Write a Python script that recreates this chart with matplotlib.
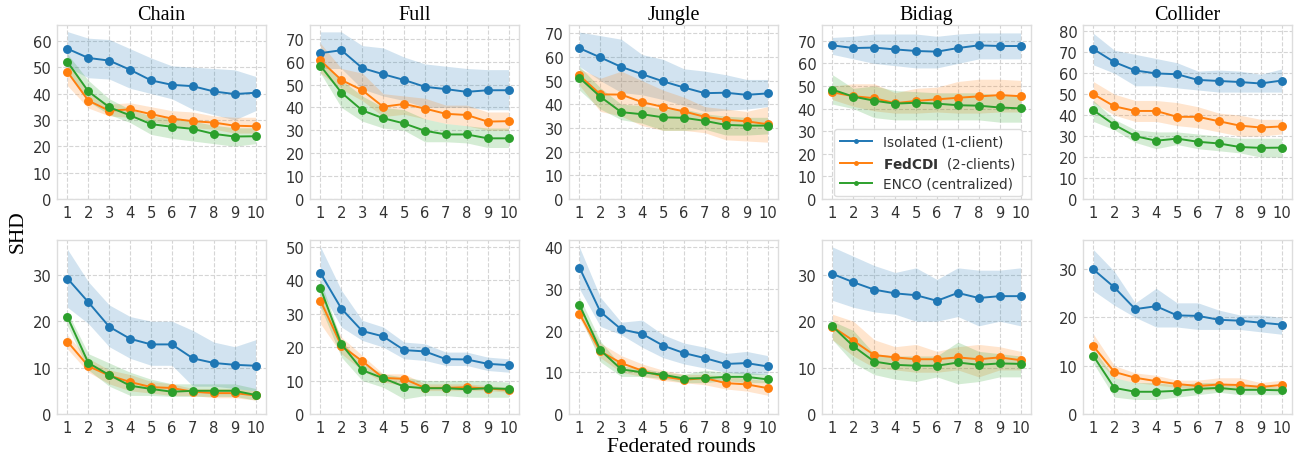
import matplotlib
matplotlib.use('Agg')
import matplotlib.pyplot as plt

# SHD per federated round, mean and band (lo/hi) for each method and graph type
rounds = [1, 2, 3, 4, 5, 6, 7, 8, 9, 10]
titles = ['Chain', 'Full', 'Jungle', 'Bidiag', 'Collider']
labels = ['Isolated (1-client)', r'$\bf{FedCDI}$  (2-clients)', 'ENCO (centralized)']

# --- top row ---
chain1_iso = [57, 53.5, 52.5, 49, 45, 43.3, 42.8, 40.8, 39.8, 40.3]
chain1_iso_hi = [63.5, 61, 60.5, 57, 53.5, 50.5, 50, 49.5, 49, 46.5]
chain1_iso_lo = [50, 46, 45.5, 42, 40, 38, 34, 32, 30, 33.5]
chain1_fed = [48.2, 37.3, 33.5, 34, 32.2, 30.5, 29.5, 29, 27.8, 27.6]
chain1_fed_hi = [52, 40, 36, 36.5, 35, 33.5, 33, 31.5, 31, 31]
chain1_fed_lo = [43, 34.5, 31.5, 31, 29.5, 28, 27, 26.5, 25, 25]
chain1_enc = [52, 40.8, 34.8, 31.7, 28.4, 27.4, 26.6, 24.7, 23.7, 23.8]
chain1_enc_hi = [55, 45, 38, 34, 31.5, 30.5, 29.5, 28, 27, 27]
chain1_enc_lo = [48, 37, 32, 29, 24.5, 23, 22, 21, 20, 21]

full1_iso = [63.7, 65, 57.2, 54.5, 52, 49, 48, 46.8, 47.5, 47.5]
full1_iso_hi = [73, 73, 67, 66, 62, 59, 58, 57, 56.5, 56.5]
full1_iso_lo = [57, 57, 48, 45, 43, 40, 40, 40, 39, 39]
full1_fed = [60.5, 52, 47.5, 40.3, 41.5, 39.5, 37.2, 36.7, 33.8, 34]
full1_fed_hi = [68, 57, 55, 46, 45, 44, 41, 41, 38, 38]
full1_fed_lo = [55, 48, 43, 36, 37, 35, 33, 32, 30, 30]
full1_enc = [58.2, 46.5, 38.7, 35.3, 33, 29.8, 28.2, 28.2, 26.5, 26.5]
full1_enc_hi = [61, 52, 45, 40, 39, 35, 33, 32, 31, 31]
full1_enc_lo = [55, 40, 34, 31, 30, 25, 25, 24.5, 22.5, 22.5]

jungle1_iso = [63.7, 59.8, 55.8, 52.7, 49.7, 47.1, 44.7, 44.9, 44, 44.6]
jungle1_iso_hi = [70.5, 69, 67.5, 61, 59, 55, 54, 52.5, 50.5, 50.5]
jungle1_iso_lo = [56, 50, 45, 44, 42, 39.5, 37, 37.5, 38, 39]
jungle1_fed = [52.2, 44.2, 44.1, 40.9, 38.9, 37, 34.7, 33.5, 32.8, 31.6]
jungle1_fed_hi = [55, 51, 54, 50, 46, 43, 39, 38, 37, 39]
jungle1_fed_lo = [48, 37, 35, 31, 29, 29, 28, 25, 24.5, 24]
jungle1_enc = [51.2, 43.2, 36.7, 35.8, 34.5, 34.3, 33, 31.3, 31, 31]
jungle1_enc_hi = [56, 47, 40, 39.5, 38, 38, 36, 35, 34.5, 34.5]
jungle1_enc_lo = [46, 38, 33.5, 32, 29, 29, 29.5, 27, 27, 27.5]

bidiag1_iso = [68, 66.8, 67, 66.2, 65.5, 65.2, 66.8, 68, 67.7, 67.7]
bidiag1_iso_hi = [71.5, 72, 73, 73, 73, 72, 73, 73.5, 73.5, 73.5]
bidiag1_iso_lo = [64, 62, 60, 59, 58, 58, 60, 62, 62, 62]
bidiag1_fed = [47.2, 45.5, 44.6, 42.4, 43.4, 44.1, 44.8, 45.4, 46, 45.5]
bidiag1_fed_hi = [50, 51, 51, 47, 49, 49.5, 52, 53, 53, 52.5]
bidiag1_fed_lo = [44, 41, 39, 38, 38, 38.5, 38, 38, 38.5, 38.5]
bidiag1_enc = [48.4, 45.3, 43.5, 42.2, 42.6, 42.2, 41.5, 41.3, 40.5, 40.1]
bidiag1_enc_hi = [55, 49, 50, 48, 47.5, 47, 47, 47, 46, 46]
bidiag1_enc_lo = [42, 40, 36, 35, 35, 35, 35, 35, 34, 34]

collider1_iso = [71.5, 65.3, 61.3, 59.9, 59.5, 56.8, 56.3, 55.8, 55.1, 56.5]
collider1_iso_hi = [79, 71, 69, 67, 65, 61, 61.5, 61, 59.5, 62]
collider1_iso_lo = [64, 60, 54, 54, 53, 52, 51, 51, 51, 51]
collider1_fed = [50, 44.2, 42, 42, 39.2, 39.2, 37.1, 35, 34.1, 34.6]
collider1_fed_hi = [56, 50, 47, 47, 46, 44, 41, 40, 38, 38]
collider1_fed_lo = [46, 40, 37, 37, 35, 34, 32, 30, 30, 31]
collider1_enc = [42.3, 35.4, 30, 27.8, 28.8, 27.3, 26.5, 24.8, 24.4, 24.5]
collider1_enc_hi = [47, 38, 33, 32, 32, 31, 30, 29, 29, 29]
collider1_enc_lo = [37, 33, 27, 24, 26, 24, 23, 22, 20, 20]

# --- bottom row ---
chain2_iso = [29.2, 24.1, 18.8, 16.2, 15, 15, 12, 11, 10.6, 10.4]
chain2_iso_hi = [35.5, 28.5, 23.5, 21, 20, 20, 18, 15.5, 14.5, 16]
chain2_iso_lo = [23, 19.5, 14.5, 12, 10.5, 10.5, 6, 6, 5.5, 5]
chain2_fed = [15.6, 10.3, 8.3, 6.9, 5.8, 5.6, 4.8, 4.5, 4.5, 4]
chain2_fed_hi = [17, 12, 9.5, 8.5, 7, 6.5, 5.5, 5.5, 5.5, 5]
chain2_fed_lo = [14, 9, 6.5, 5, 4.5, 4, 4, 3.5, 3.5, 3]
chain2_enc = [20.9, 11, 8.4, 6.1, 5.4, 4.8, 5, 5, 5, 4.1]
chain2_enc_hi = [22, 13, 11, 9, 7.5, 6.5, 6.5, 6.5, 6.5, 5.5]
chain2_enc_lo = [19, 9.5, 6, 4, 4, 3.8, 3.8, 3.8, 3.8, 3]

full2_iso = [42.1, 31.5, 24.8, 23.2, 19.1, 18.7, 16.4, 16.3, 15, 14.6]
full2_iso_hi = [50, 37, 28, 26, 21.5, 21, 18.5, 18.5, 17, 16.5]
full2_iso_lo = [37, 26, 22, 20, 16.5, 16, 14.5, 14.5, 13, 12.5]
full2_fed = [33.9, 20.4, 15.8, 10.8, 10.5, 7.8, 7.8, 8, 7.6, 7.2]
full2_fed_hi = [36, 23, 17.5, 12, 12, 9, 9, 9, 8.5, 8]
full2_fed_lo = [27, 18, 13, 9.5, 8.5, 7, 7, 7, 7, 6.5]
full2_enc = [37.6, 20.9, 13.1, 10.7, 8.2, 7.7, 7.7, 7.4, 7.7, 7.5]
full2_enc_hi = [40, 22, 15, 12, 11, 10, 10, 10, 10, 9.5]
full2_enc_lo = [32, 17, 10, 8, 4.5, 5.5, 5.5, 5, 5, 5]

jungle2_iso = [35.1, 24.5, 20.3, 19.2, 16.4, 14.6, 13.4, 12, 12.2, 11.4]
jungle2_iso_hi = [40, 28, 22, 22.5, 19, 17, 16, 14.5, 15, 14]
jungle2_iso_lo = [30, 21, 19, 16, 13.5, 12, 11, 10, 9.5, 9.5]
jungle2_fed = [24, 15, 12.2, 10.4, 9, 8.2, 8.6, 7.4, 7.1, 6.2]
jungle2_fed_hi = [25, 17, 14, 12, 10.5, 9.5, 9.5, 9, 8.5, 8]
jungle2_fed_lo = [23, 13.5, 10, 9, 8, 7.5, 7, 6, 5.5, 4.5]
jungle2_enc = [26.2, 15.3, 10.7, 10, 9.4, 8.5, 8.6, 8.9, 8.9, 8.3]
jungle2_enc_hi = [28, 17.5, 11.5, 11, 10, 9.5, 10.5, 10, 10, 9.5]
jungle2_enc_lo = [24, 12.5, 9, 9, 8.5, 7.5, 7.5, 8, 7.5, 7.5]

bidiag2_iso = [30.2, 28.4, 26.8, 26, 25.6, 24.4, 26.1, 25, 25.4, 25.4]
bidiag2_iso_hi = [36, 34, 32, 30.5, 31.5, 29, 31.5, 31, 31, 31.5]
bidiag2_iso_lo = [24.5, 23, 22, 21.5, 20, 20, 21, 19, 20, 19]
bidiag2_fed = [18.8, 15.8, 12.7, 12.2, 11.8, 11.8, 12.2, 11.8, 12.2, 11.6]
bidiag2_fed_hi = [21.5, 20, 16, 14.5, 15, 13.5, 14.5, 15, 14.5, 13.5]
bidiag2_fed_lo = [16, 12.5, 10, 9.5, 9, 9, 9.5, 8, 9.5, 9.5]
bidiag2_enc = [18.9, 14.6, 11.3, 10.6, 10.4, 10.4, 11.1, 10.6, 10.9, 10.8]
bidiag2_enc_hi = [20, 18, 13, 12.5, 12.5, 12.5, 15.5, 13.5, 13, 12.5]
bidiag2_enc_lo = [16, 11, 8.5, 7.5, 7, 8, 6.5, 7, 8, 8]

collider2_iso = [29.9, 26.2, 21.7, 22.3, 20.4, 20.3, 19.5, 19.3, 18.9, 18.5]
collider2_iso_hi = [34, 29.5, 23, 26, 23, 23, 21.5, 20.5, 20.5, 20]
collider2_iso_lo = [25.5, 22.5, 20, 18, 18, 17.5, 17.5, 17.5, 17, 16.5]
collider2_fed = [14, 8.7, 7.5, 6.8, 6.2, 5.8, 6.1, 6, 5.6, 6]
collider2_fed_hi = [16.5, 10, 8.5, 8, 7, 7, 7.5, 7.5, 6.5, 7]
collider2_fed_lo = [12, 7.5, 6.5, 6, 5.5, 5, 5, 5, 5, 5]
collider2_enc = [12, 5.4, 4.6, 4.6, 4.8, 5.2, 5.4, 5, 5, 4.9]
collider2_enc_hi = [13.5, 7.5, 6.5, 6.5, 6, 6.5, 6.5, 6, 6, 5.5]
collider2_enc_lo = [10.5, 3.5, 3, 3, 3.5, 4, 4.5, 4, 4, 4]

top_row = [
    [(chain1_iso, chain1_iso_lo, chain1_iso_hi), (chain1_fed, chain1_fed_lo, chain1_fed_hi), (chain1_enc, chain1_enc_lo, chain1_enc_hi)],
    [(full1_iso, full1_iso_lo, full1_iso_hi), (full1_fed, full1_fed_lo, full1_fed_hi), (full1_enc, full1_enc_lo, full1_enc_hi)],
    [(jungle1_iso, jungle1_iso_lo, jungle1_iso_hi), (jungle1_fed, jungle1_fed_lo, jungle1_fed_hi), (jungle1_enc, jungle1_enc_lo, jungle1_enc_hi)],
    [(bidiag1_iso, bidiag1_iso_lo, bidiag1_iso_hi), (bidiag1_fed, bidiag1_fed_lo, bidiag1_fed_hi), (bidiag1_enc, bidiag1_enc_lo, bidiag1_enc_hi)],
    [(collider1_iso, collider1_iso_lo, collider1_iso_hi), (collider1_fed, collider1_fed_lo, collider1_fed_hi), (collider1_enc, collider1_enc_lo, collider1_enc_hi)],
]
bottom_row = [
    [(chain2_iso, chain2_iso_lo, chain2_iso_hi), (chain2_fed, chain2_fed_lo, chain2_fed_hi), (chain2_enc, chain2_enc_lo, chain2_enc_hi)],
    [(full2_iso, full2_iso_lo, full2_iso_hi), (full2_fed, full2_fed_lo, full2_fed_hi), (full2_enc, full2_enc_lo, full2_enc_hi)],
    [(jungle2_iso, jungle2_iso_lo, jungle2_iso_hi), (jungle2_fed, jungle2_fed_lo, jungle2_fed_hi), (jungle2_enc, jungle2_enc_lo, jungle2_enc_hi)],
    [(bidiag2_iso, bidiag2_iso_lo, bidiag2_iso_hi), (bidiag2_fed, bidiag2_fed_lo, bidiag2_fed_hi), (bidiag2_enc, bidiag2_enc_lo, bidiag2_enc_hi)],
    [(collider2_iso, collider2_iso_lo, collider2_iso_hi), (collider2_fed, collider2_fed_lo, collider2_fed_hi), (collider2_enc, collider2_enc_lo, collider2_enc_hi)],
]

top_ylim = [66, 76, 73.5, 77, 83]
top_yticks = [range(0, 61, 10), range(0, 71, 10), range(0, 71, 10), range(0, 71, 10), range(0, 81, 10)]
bottom_ylim = [37.5, 52, 41.7, 37.5, 36]
bottom_yticks = [range(0, 31, 10), range(0, 51, 10), range(0, 41, 10), range(0, 31, 10), range(0, 31, 10)]

colors = ['#1f77b4', '#ff7f0e', '#2ca02c']

W, H = 1305, 464
fig = plt.figure(figsize=(W / 100, H / 100), dpi=100)
lefts = [57, 310, 569, 822, 1083]
aw = 209


def draw_panel(ax, series, ymax, yticks):
    for (m, lo, hi), c in zip(series, colors):
        ax.fill_between(rounds, lo, hi, color=c, alpha=0.2, linewidth=0)
        ax.plot(rounds, m, color=c, marker='o', markersize=5.4, linewidth=1.4)
    ax.set_xlim(0.5, 10.5)
    ax.set_ylim(0, ymax)
    ax.set_xticks(rounds)
    ax.set_yticks(list(yticks))
    ax.grid(True, linestyle='--', color='#d5d5d5', linewidth=0.8)
    ax.set_axisbelow(True)
    for s in ax.spines.values():
        s.set_color('#dddddd')
        s.set_linewidth(1.0)
    ax.tick_params(length=0, labelsize=10.6, labelcolor='#333333', pad=4)


axes_top = []
for i in range(5):
    ax = fig.add_axes([lefts[i] / W, 1 - 200 / H, aw / W, 174 / H])
    draw_panel(ax, top_row[i], top_ylim[i], top_yticks[i])
    ax.set_title(titles[i], fontsize=14.5, family='Liberation Serif', pad=4)
    axes_top.append(ax)

for i in range(5):
    ax = fig.add_axes([lefts[i] / W, 1 - 415 / H, aw / W, 174 / H])
    draw_panel(ax, bottom_row[i], bottom_ylim[i], bottom_yticks[i])

# legend with small dots in the handles
handles = [plt.Line2D([], [], color=c, marker='o', markersize=2.5, linewidth=1.4) for c in colors]
axes_top[3].legend(handles, labels, loc='lower right', bbox_to_anchor=(0.955, 0.015),
                   borderaxespad=0, fontsize=9.8, frameon=True, edgecolor='#dddddd',
                   handlelength=2.4, labelspacing=0.45, fancybox=True, framealpha=1,
                   labelcolor='#333333')

fig.text(18 / W, 1 - 232 / H, 'SHD', rotation=90, ha='center', va='center',
         fontsize=15.5, family='Liberation Serif')
fig.text(681 / W, 1 - 448 / H, 'Federated rounds', ha='center', va='center',
         fontsize=15.5, family='Liberation Serif')

fig.savefig('out.png', dpi=100)
